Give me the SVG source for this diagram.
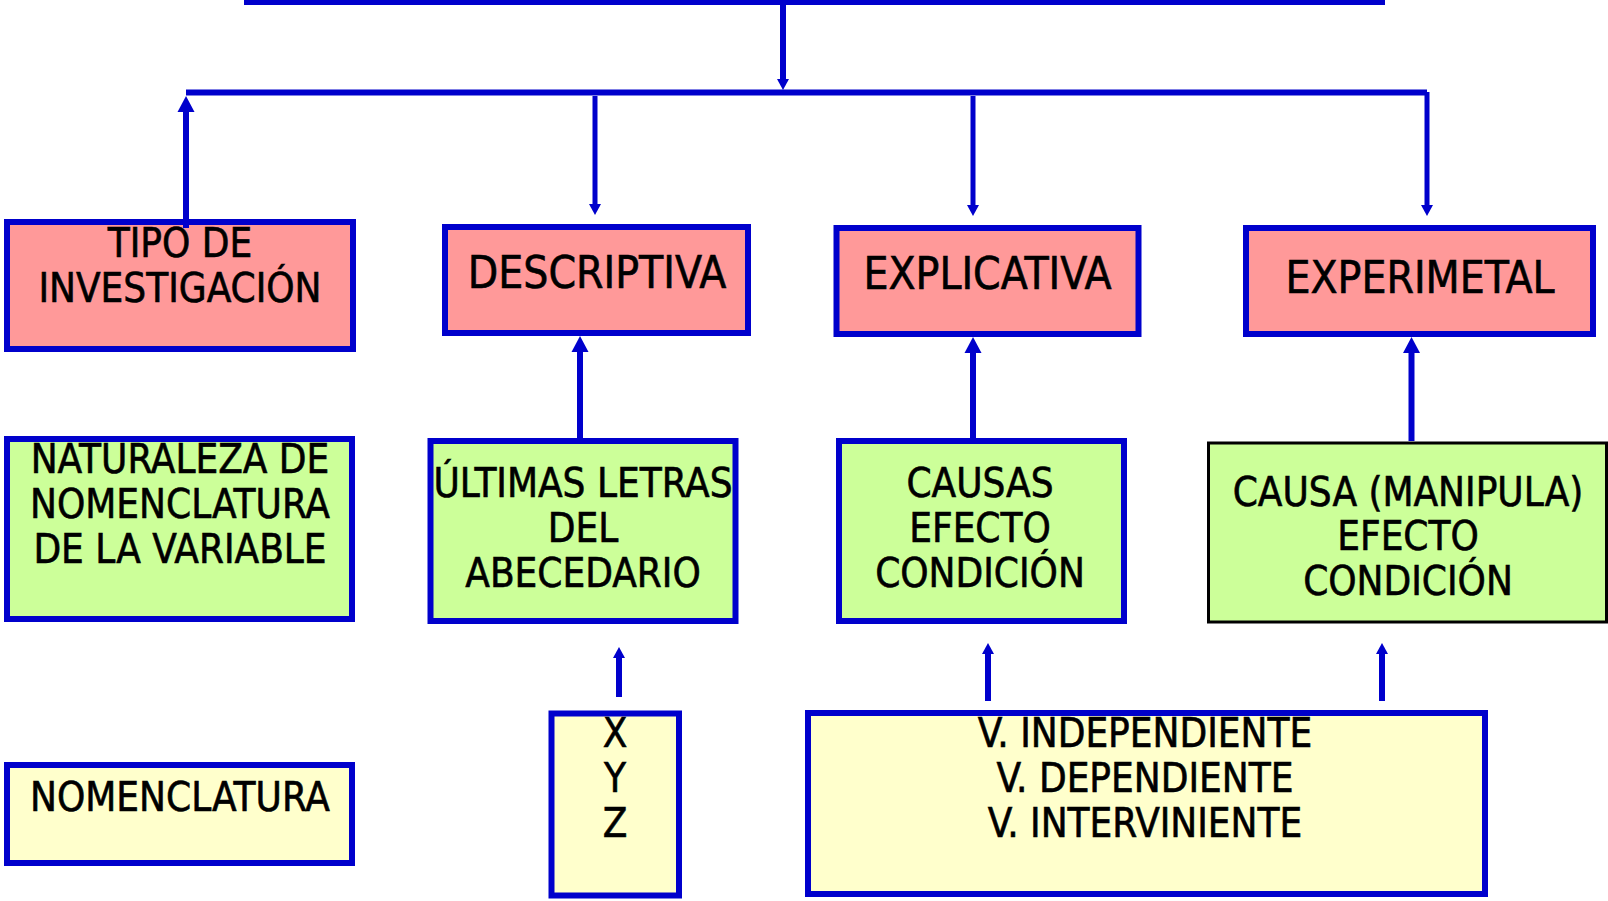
<svg xmlns="http://www.w3.org/2000/svg" width="1608" height="901" viewBox="0 0 1608 901">
<style>
.box{stroke:#0000CC;stroke-width:6}
.pink{fill:#FF9999}
.green{fill:#CCFF99}
.yellow{fill:#FFFFCC}
.t{font-family:"DejaVu Sans Condensed","DejaVu Sans",sans-serif;font-size:40px;fill:#000;stroke:#000;stroke-width:0.6px;text-anchor:middle}
.tb{font-size:44px}
.c{fill:none;stroke:#0000CC;stroke-width:6}
.thin{stroke-width:5}
</style>
<defs>
<marker id="big" viewBox="0 0 16 17" refX="0" refY="8.5" markerWidth="16" markerHeight="17" markerUnits="userSpaceOnUse" orient="auto" overflow="visible">
<path d="M0,0 L16,8.5 L0,17 z" fill="#0000CC"/>
</marker>
<marker id="small" viewBox="0 0 11 12" refX="0" refY="6" markerWidth="11" markerHeight="12" markerUnits="userSpaceOnUse" orient="auto" overflow="visible">
<path d="M0,0 L11,6 L0,12 z" fill="#0000CC"/>
</marker>
</defs>

<g id="tipo">
<rect class="box pink" x="7" y="222" width="346" height="127"/>
<text class="t" x="180" y="257">TIPO DE</text>
<text class="t" x="180" y="302">INVESTIGACIÓN</text>
</g>
<g id="descriptiva">
<rect class="box pink" x="445" y="227" width="303" height="106"/>
<text class="t tb" x="597" y="288">DESCRIPTIVA</text>
</g>
<g id="explicativa">
<rect class="box pink" x="836.5" y="228" width="302" height="106"/>
<text class="t tb" x="987.5" y="289">EXPLICATIVA</text>
</g>
<g id="experimetal">
<rect class="box pink" x="1246" y="228" width="347" height="106"/>
<text class="t tb" x="1420" y="293">EXPERIMETAL</text>
</g>

<g id="naturaleza">
<rect class="box green" x="7" y="439" width="345" height="180"/>
<text class="t" x="180" y="473">NATURALEZA DE</text>
<text class="t" x="180" y="518">NOMENCLATURA</text>
<text class="t" x="180" y="563">DE LA VARIABLE</text>
</g>
<g id="ultimas">
<rect class="box green" x="430.5" y="441" width="305" height="180"/>
<text class="t" x="583" y="497">ÚLTIMAS LETRAS</text>
<text class="t" x="583" y="542">DEL</text>
<text class="t" x="583" y="587">ABECEDARIO</text>
</g>
<g id="causas">
<rect class="box green" x="839" y="441" width="285" height="180"/>
<text class="t" x="980" y="497">CAUSAS</text>
<text class="t" x="980" y="542">EFECTO</text>
<text class="t" x="980" y="587">CONDICIÓN</text>
</g>
<g id="causa-manipula">
<rect class="green" x="1208.5" y="443" width="398" height="179" stroke="#000" stroke-width="3"/>
<text class="t" x="1408" y="506">CAUSA (MANIPULA)</text>
<text class="t" x="1408" y="550">EFECTO</text>
<text class="t" x="1408" y="595">CONDICIÓN</text>
</g>

<g id="nomenclatura">
<rect class="box yellow" x="7" y="765" width="345" height="98"/>
<text class="t" x="180" y="811">NOMENCLATURA</text>
</g>
<g id="xyz">
<rect class="box yellow" x="551.5" y="713.5" width="127.5" height="182"/>
<text class="t" x="615" y="747">X</text>
<text class="t" x="615" y="792">Y</text>
<text class="t" x="615" y="837">Z</text>
</g>
<g id="variables">
<rect class="box yellow" x="808" y="713" width="677" height="181"/>
<text class="t" x="1145" y="747">V. INDEPENDIENTE</text>
<text class="t" x="1145" y="792">V. DEPENDIENTE</text>
<text class="t" x="1145" y="837">V. INTERVINIENTE</text>
</g>

<g id="connectors">
<line class="c" x1="244" y1="2" x2="1385" y2="2" stroke-width="5"/>
<path class="c" d="M783,4 V79" marker-end="url(#small)"/>
<path class="c" d="M186,92.5 H1427" stroke-width="7"/>
<path class="c" d="M186,228 V112" marker-end="url(#big)"/>
<path class="c thin" d="M595,96 V204" marker-end="url(#small)"/>
<path class="c thin" d="M973,96 V205" marker-end="url(#small)"/>
<path class="c thin" d="M1427,92 V205" marker-end="url(#small)"/>
<path class="c" d="M580,438 V352" marker-end="url(#big)"/>
<path class="c" d="M973,438 V353" marker-end="url(#big)"/>
<path class="c" d="M1411.5,441 V353" marker-end="url(#big)"/>
<path class="c" d="M619,697 V658" marker-end="url(#small)"/>
<path class="c" d="M988,701 V654" marker-end="url(#small)"/>
<path class="c" d="M1382,701 V654" marker-end="url(#small)"/>
</g>
</svg>
